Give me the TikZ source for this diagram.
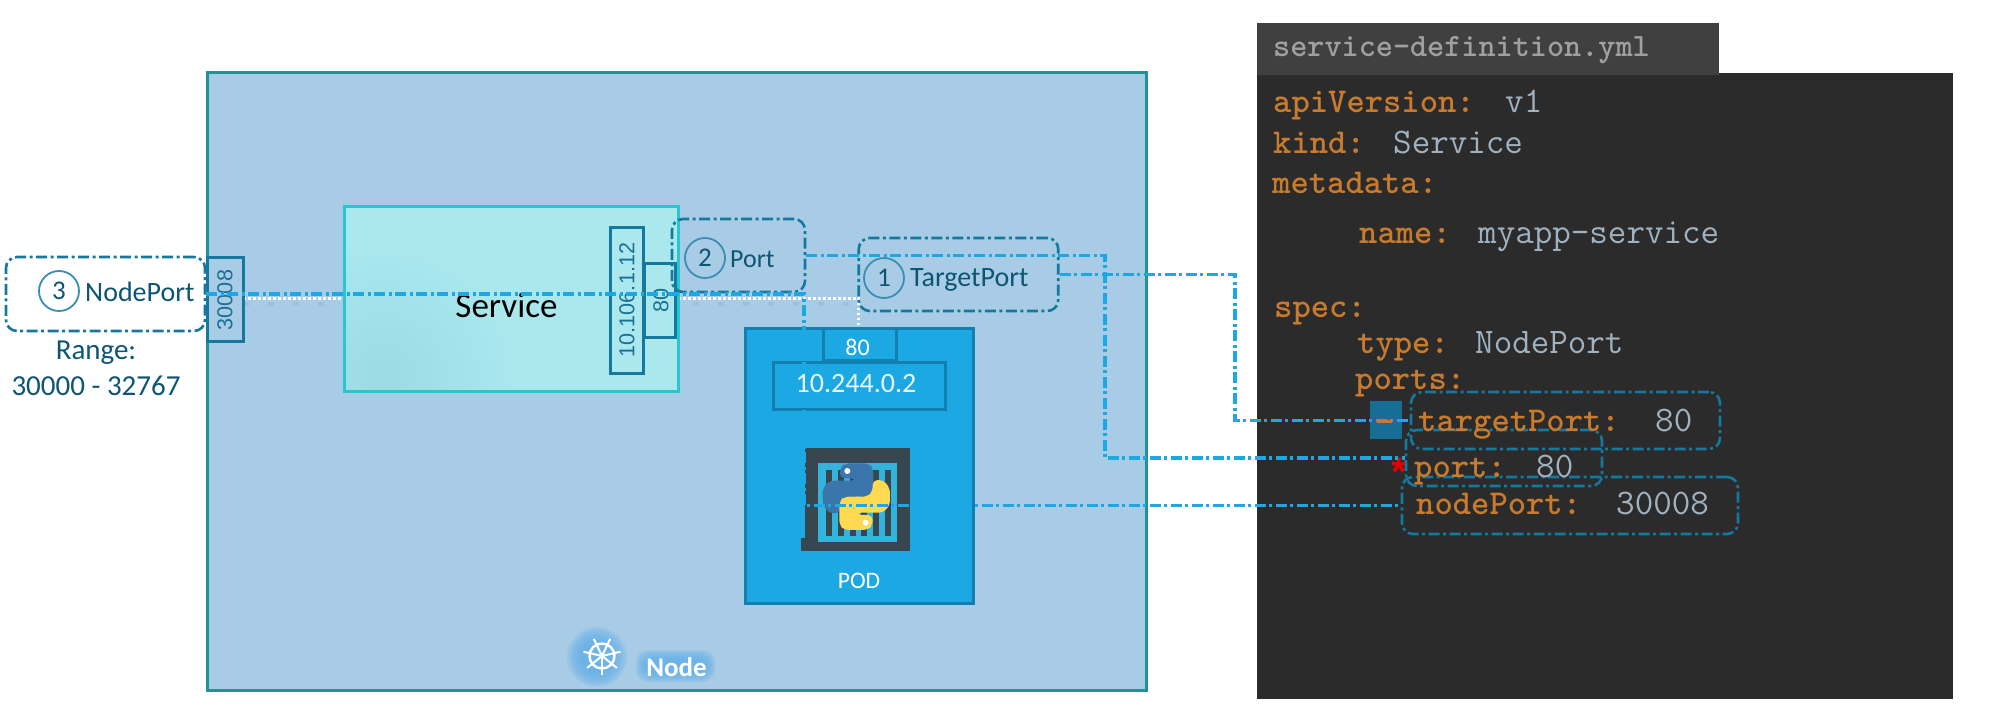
\documentclass[tikz,border=0pt]{standalone}
\usepackage{fontspec}
\setmainfont{Carlito}
\newfontfamily\yarial{Liberation Sans}
\definecolor{nodefill}{HTML}{A8CCE6}
\definecolor{nodeedge}{HTML}{1F9497}
\definecolor{svcfill}{HTML}{ABE8EE}
\definecolor{svcdark}{HTML}{7CCFD4}
\definecolor{svcedge}{HTML}{27C6D0}
\definecolor{portedge}{HTML}{14789F}
\definecolor{conncol}{HTML}{1CA9E3}
\definecolor{podfill}{HTML}{1CA9E3}
\definecolor{podedge}{HTML}{137FB0}
\definecolor{labeltext}{HTML}{0D5573}
\definecolor{ringcol}{HTML}{3A8FB0}
\definecolor{panel}{HTML}{2B2B2B}
\definecolor{tabcol}{HTML}{404040}
\definecolor{tabtext}{HTML}{A0A0A0}
\definecolor{keycol}{HTML}{C87A2D}
\definecolor{valcol}{HTML}{A0B2C0}
\definecolor{glowcol}{HTML}{63B0EA}
\definecolor{icondark}{HTML}{37474F}
\definecolor{iconcyan}{HTML}{34B3DC}
\definecolor{pyblue}{HTML}{3A76AC}
\definecolor{pyyellow}{HTML}{FFD94F}
\definecolor{boxtext}{HTML}{1A6F96}
\definecolor{sqcol}{HTML}{166E96}
\newcommand{\fs}[1]{\fontsize{#1}{#1}\selectfont}
\newcommand{\pysnake}{(345,100) -- (415,100) -- (430,115) -- (430,185) -- (415,200) -- (345,200) -- (330,215) -- (330,250) -- (298,250) -- (278,225) -- (278,175) -- (298,152) -- (380,152) -- (380,145) -- (330,145) -- (330,115) -- cycle}
\tikzset{
  dbox/.style={draw=portedge,line width=2.6pt,rounded corners=11pt,inner sep=0pt,
    dash pattern=on 11pt off 3.5pt on 3pt off 3.5pt},
  conn/.style={draw=conncol,line width=3.2pt,dash pattern=on 11pt off 3.5pt on 3pt off 3.5pt},
  portbox/.style={draw=portedge,line width=3pt,inner sep=0pt},
  ring/.style={circle,draw=ringcol,line width=1.8pt,minimum size=40pt,inner sep=0pt,text=labeltext,font=\fs{27}},
  lbl/.style={text=labeltext,inner sep=0pt,font=\fs{28}},
  rottext/.style={rotate=90,text=boxtext,inner sep=0pt,font=\yarial\fs{21.6}},
  ykey/.style={anchor=base west,inner sep=0pt,text=keycol,font=\ttfamily\bfseries\fs{34.9}},
  yval/.style={anchor=base west,inner sep=0pt,text=valcol,font=\ttfamily\fs{36}},
}
\begin{document}
\begin{tikzpicture}[x=1pt,y=-1pt]
\useasboundingbox (0,0) rectangle (1990,720);
\fill[white] (0,0) rectangle (1990,720);

% worker node
\node[draw=nodeedge,fill=nodefill,line width=3pt,minimum width=939pt,minimum height=618pt,inner sep=0pt] (workernode) at (676.5,381) {};

% node label with soft glow
\foreach \g in {0,2,...,14}{
  \fill[glowcol,opacity=.2] (597,657) circle ({30-\g*1});
}
\foreach \g in {0,1.5,...,9}{
  \fill[glowcol,opacity=.22,rounded corners=12pt] (636+\g,650+\g) rectangle (715-\g,682-\g);
}
\node[text=white,inner sep=0pt,font=\bfseries\fs{27}] (nodelabel) at (676.5,667) {Node};
\node[circle,draw=white,line width=2.4pt,minimum size=25pt,inner sep=0pt] (wheel) at (602,656) {};
\foreach \a in {-90,-38.6,12.9,64.3,115.7,167.1,218.6}{
  \draw[white,line width=2pt] (602,656) -- ++(\a:19pt);
}

% white dotted link, under the service
\coordinate (dotbend) at (858.6,298.5);
\coordinate (dotstart) at (243,298.5);
\node[inner sep=0pt,minimum width=73pt,minimum height=32pt] (podportanchor) at (859,344) {};
\draw[gray,opacity=.16,line width=4pt,dash pattern=on 6pt off 19pt] ([yshift=-5pt]dotstart) -- ([yshift=-5pt]dotbend);
\draw[white,line width=2.4pt,dash pattern=on 2.5pt off 2.5pt] (dotstart) -- (dotbend) -- (podportanchor.north -| dotbend);

% service
\node[draw=svcedge,fill=svcfill,line width=3pt,minimum width=334pt,minimum height=185pt,inner sep=0pt,
  path picture={\foreach \r in {20,30,...,130}{\fill[svcdark,opacity=.025] ([shift={(40,-15)}]path picture bounding box.south west) circle (\r pt);}}] (service) at (511,298.5) {};
\node[text=black,inner sep=0pt,font=\fs{35}] (servicetext) at (506.5,306) {Service};

\node[portbox,minimum width=33pt,minimum height=146pt] (svcip) at (626.5,300) {};
\node[rottext] (svciptext) at (627,300) {10.106.1.12};
\node[portbox,minimum width=31pt,minimum height=74pt] (svcport) at (659.5,300) {};
\node[rottext] (svcporttext) at (661,300.5) {80};

\node[portbox,minimum width=36pt,minimum height=84pt] (nodeport) at (225,299) {};
\node[rottext] (nodeporttext) at (225,300) {30008};

% pod
\node[draw=podedge,fill=podfill,line width=3pt,minimum width=228pt,minimum height=275pt,inner sep=0pt] (pod) at (859,465.5) {};
\node[draw=podedge,fill=podfill,line width=3pt,minimum width=73pt,minimum height=32pt,inner sep=0pt] (podport) at (859.5,344) {};
\node[draw=podedge,fill=podfill,line width=3pt,minimum width=172pt,minimum height=47pt,inner sep=0pt] (podip) at (859,385.5) {};
\node[text=white,inner sep=0pt,font=\fs{23.6}] (podtext) at (859,581) {POD};

% container icon
\fill[icondark] (805,448) rectangle (910,551);
\fill[icondark] (801,538) rectangle (810,551);
\fill[iconcyan] (818,463) rectangle (897,542);
\foreach \bx in {826,837.7,849.5,861.2,873,884.7}{
  \fill[icondark] (\bx,470) rectangle (\bx+6,536);
}
\begin{scope}[shift={(730,430)},x=.3333pt,y=-.3333pt]
  \fill[pyblue,rounded corners=5pt] \pysnake;
  \begin{scope}[shift={(379,200)},rotate=180,shift={(-379,-200)}]
    \fill[pyyellow,rounded corners=5pt] \pysnake;
  \end{scope}
  \fill[white] (352,123) circle (9);
  \fill[white] (407,278) circle (9);
\end{scope}

% free labels
\node[lbl,font=\fs{29}] (rangeA) at (96,353) {Range:};
\node[lbl,font=\fs{29}] (rangeB) at (96,386) {30000 - 32767};
\node[ring] (ring3) at (59,291) {3};
\node[lbl,anchor=west] (nptext) at (85,292) {NodePort};
\node[ring] (ring2) at (705,258) {2};
\node[lbl,anchor=west,font=\fs{26}] (porttext) at (730,259) {Port};
\node[ring] (ring1) at (884,278) {1};
\node[lbl,anchor=west] (tptext) at (910,280) {TargetPort};

% yaml panel
\fill[panel] (1257,73) rectangle (1953,699);
\fill[tabcol] (1257,23) rectangle (1719,75);
\node[anchor=west,inner sep=0pt,text=tabtext,font=\ttfamily\bfseries\fs{32.6}] (tab) at (1273,50) {service-definition.yml};
\node[ykey] (k1) at (1273,112) {apiVersion:};
\node[yval] (v1) at (1505,112) {v1};
\node[ykey] (k2) at (1273,153) {kind:};
\node[yval] (v2) at (1393,153) {Service};
\node[ykey] (k3) at (1272,193) {metadata:};
\node[ykey] (k4) at (1359,243) {name:};
\node[yval] (v4) at (1478,243) {myapp-service};
\node[ykey] (k5) at (1274,317) {spec:};
\node[ykey] (k6) at (1357,353) {type:};
\node[yval] (v6) at (1475,353) {NodePort};
\node[ykey] (k7) at (1355,389) {ports:};
\node[fill=sqcol,minimum width=32pt,minimum height=38pt,inner sep=0pt] (square) at (1386,420) {};
\node[text=red!90!black,inner sep=0pt,font=\yarial\bfseries\fs{40}] (star) at (1399,472) {*};

% dashed frames
\node[dbox,minimum width=199pt,minimum height=74pt] (npbox) at (105.5,294) {};
\node[dbox,minimum width=133pt,minimum height=73pt] (portlabel) at (738.5,255.5) {};
\node[dbox,minimum width=199.5pt,minimum height=73pt] (tplabel) at (958.5,274.5) {};
\node[dbox,minimum width=309pt,minimum height=57pt] (ytarget) at (1565.5,420.5) {};
\node[dbox,minimum width=196pt,minimum height=56pt] (yport) at (1504,458) {};
\node[dbox,minimum width=336pt,minimum height=57pt] (ynode) at (1570,505.5) {};

% connectors
\coordinate (npbend) at (804,0);
\coordinate (portbend) at (1105,0);
\coordinate (tpbend) at (1235,0);
\draw[conn] (npbox.east) -- (npbox.east -| npbend) -- (npbend |- ynode.west) -- (ynode.west);
\draw[conn] (portlabel.east) -- (portlabel.east -| portbend) -- (portbend |- yport.west) -- (yport.west);
\draw[conn] (tplabel.east) -- (tplabel.east -| tpbend) -- (tpbend |- ytarget.west) -- (ytarget.west);

% texts on top of the connectors
\node[text=white,inner sep=0pt,font=\fs{24}] (podporttext) at (857.5,347) {80};
\node[text=white!90!podfill,inner sep=0pt,font=\fs{28}] (podiptext) at (856,384) {10.244.0.2};
\fill[keycol] (1377,419.5) rectangle (1392,423);
\node[ykey] (k8) at (1418,431) {targetPort:};
\node[yval] (v8) at (1655,431) {80};
\node[ykey] (k9) at (1414,477) {port:};
\node[yval] (v9) at (1536,477) {80};
\node[ykey] (k10) at (1416,514) {nodePort:};
\node[yval] (v10) at (1616,514) {30008};
\end{tikzpicture}
\end{document}
